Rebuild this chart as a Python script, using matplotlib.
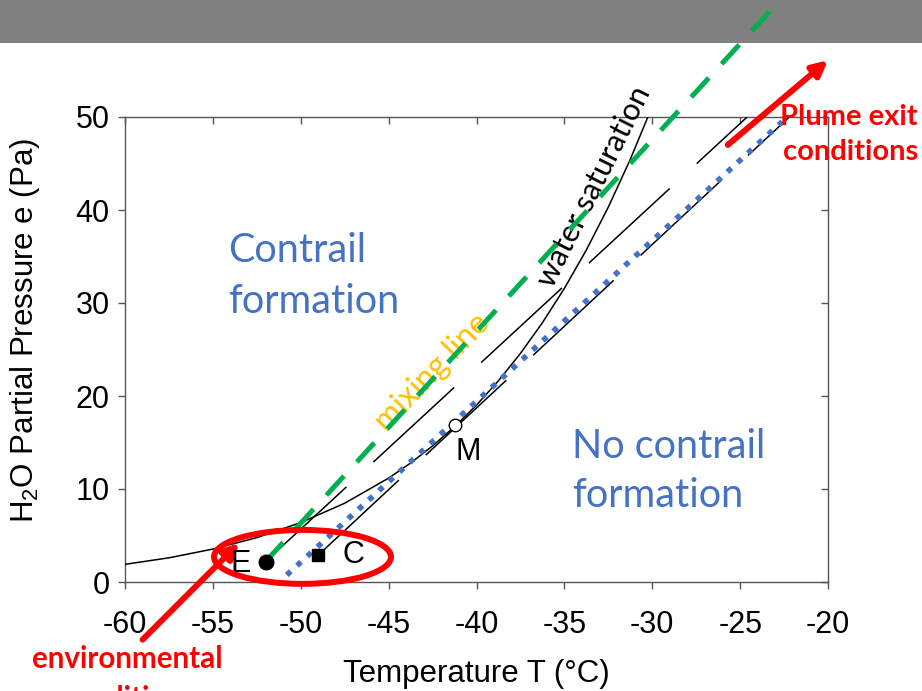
import matplotlib
matplotlib.use('Agg')
import matplotlib.pyplot as plt
from matplotlib.patches import Rectangle, Ellipse

plt.rcParams['font.family'] = ['Liberation Sans', 'DejaVu Sans']
plt.rcParams['axes.unicode_minus'] = False
plt.rcParams['mathtext.fontset'] = 'custom'
plt.rcParams['mathtext.rm'] = 'Liberation Sans'
plt.rcParams['mathtext.it'] = 'Liberation Sans'

# water saturation curve (temperature in C, pressure in Pa)
sat_T = [-60, -57.5, -55, -52.5, -50, -47.5, -45, -43.75, -42.5, -41.25, -40, -38.75,
         -37.5, -36.25, -35, -33.75, -32.5, -31.25, -30.25]
sat_e = [1.9, 2.6, 3.54, 4.77, 6.39, 8.47, 11.17, 12.79, 14.63, 16.70, 19.02, 21.64,
         24.58, 27.88, 31.57, 35.70, 40.31, 45.44, 50.0]

# points E (environment), C (threshold), M (tangent)
E_T, E_e = -52.0, 2.2
C_T, C_e = -49.0, 2.9
M_T, M_e = -41.2, 16.9

# black dashed mixing lines through E and through C
lineE_T = [E_T, -24.6]
lineE_e = [E_e, 50.0]
lineC_T = [C_T, -22.2]
lineC_e = [C_e, 50.0]

# slide overlays
green_T = [E_T, -23.0]
green_e = [E_e, 62.0]
blue_T = [-50.8, -22.6]
blue_e = [0.75, 49.5]

xticks = [-60, -55, -50, -45, -40, -35, -30, -25, -20]
yticks = [0, 10, 20, 30, 40, 50]

fig = plt.figure(figsize=(9.22, 6.91), dpi=100)
fig.patches.append(Rectangle((0, 1 - 43 / 691), 1, 43 / 691, transform=fig.transFigure,
                             facecolor='#808080', edgecolor='none', zorder=-5))
ax = fig.add_axes([125 / 922, 1 - 582 / 691, 703 / 922, 465 / 691])

ax.plot(sat_T, sat_e, color='black', lw=1.1, zorder=3)
ax.plot(lineE_T, lineE_e, color='black', lw=1.1, ls=(0, (72, 24)), zorder=3)
ax.plot(lineC_T, lineC_e, color='black', lw=1.1, ls=(0, (72, 24)), zorder=3)
ax.plot(green_T, green_e, color='#00B050', lw=3.6, ls=(0, (5.2, 3.8)), clip_on=False, zorder=4)
ax.plot(blue_T, blue_e, color='#4472C4', lw=4, ls=(0, (1, 1.5)), zorder=5)

ax.plot([E_T], [E_e], 'o', color='black', ms=10.5, zorder=6)
ax.plot([C_T], [C_e], 's', color='black', ms=8, zorder=6)
ax.plot([M_T], [M_e], 'o', mfc='white', mec='black', mew=1, ms=9, zorder=6)

ax.text(-54.0, 1.1, 'E', fontsize=22, zorder=7)
ax.text(-47.6, 2.0, 'C', fontsize=22, zorder=7)
ax.text(-41.2, 13.1, 'M', fontsize=22, zorder=7)

# red annotations
ax.add_patch(Ellipse((-49.9, 2.7), 10.07, 5.8, fill=False, edgecolor='red', lw=4.3,
                     clip_on=False, zorder=8))
ax.annotate('', xy=(-53.5, 4.2), xytext=(-59.0, -6.2), annotation_clip=False,
            arrowprops=dict(arrowstyle='-|>,head_length=0.9,head_width=0.45', color='red', lw=4.3,
                            shrinkA=0, shrinkB=0))
ax.annotate('', xy=(-20.0, 56.1), xytext=(-25.7, 47.0), annotation_clip=False,
            arrowprops=dict(arrowstyle='-|>,head_length=0.9,head_width=0.45', color='red', lw=4.3,
                            shrinkA=0, shrinkB=0))

lato = ['Lato', 'DejaVu Sans']
ax.text(-54.14, 34.4, 'Contrail', fontsize=28.5, color='#4472C4', family=lato)
ax.text(-54.14, 28.9, 'formation', fontsize=28.5, color='#4472C4', family=lato)
ax.text(-34.57, 13.3, 'No contrail', fontsize=28.5, color='#4472C4', family=lato)
ax.text(-34.57, 8.1, 'formation', fontsize=28.5, color='#4472C4', family=lato)
ax.text(-42.5, 22.5, 'mixing line', fontsize=23, color='#FFC000', family=lato,
        rotation=46, ha='center', va='center', zorder=3)
ax.text(-33.3, 42.5, 'water saturation', fontsize=22, color='black', family=lato,
        rotation=63.5, ha='center', va='center', clip_on=False)

fig.text(918 / 922, 1 - 125 / 691, 'Plume exit', fontsize=21, color='red', weight='bold',
         family=lato, ha='right', va='baseline')
fig.text(918 / 922, 1 - 160 / 691, 'conditions', fontsize=21, color='red', weight='bold',
         family=lato, ha='right', va='baseline')
fig.text(127 / 922, 1 - 668 / 691, 'environmental', fontsize=21.3, color='red', weight='bold',
         family=lato, ha='center', va='baseline')
fig.text(127 / 922, 1 - 708 / 691, 'conditions', fontsize=21.3, color='red', weight='bold',
         family=lato, ha='center', va='baseline')

ax.set_xlim(-60, -20)
ax.set_ylim(0, 50)
ax.set_xticks(xticks)
ax.set_yticks(yticks)
ax.tick_params(axis='both', labelsize=22, length=5, width=1, color='#555555', direction='out',
               top=True, right=True)
ax.tick_params(axis='x', pad=15)
ax.tick_params(axis='y', pad=6)
for t in ax.xaxis.get_major_ticks():
    t.tick2line.set_marker(3)
for t in ax.yaxis.get_major_ticks():
    t.tick2line.set_marker(0)
for s in ax.spines.values():
    s.set_color('#555555')
    s.set_linewidth(1)

ax.set_xlabel('Temperature T (°C)', fontsize=22.5, labelpad=14)
ax.set_ylabel(r'H$_2$O Partial Pressure e (Pa)', fontsize=22.5)
ax.yaxis.set_label_coords(-0.118, 0.54)

fig.savefig('out.png', dpi=100)
